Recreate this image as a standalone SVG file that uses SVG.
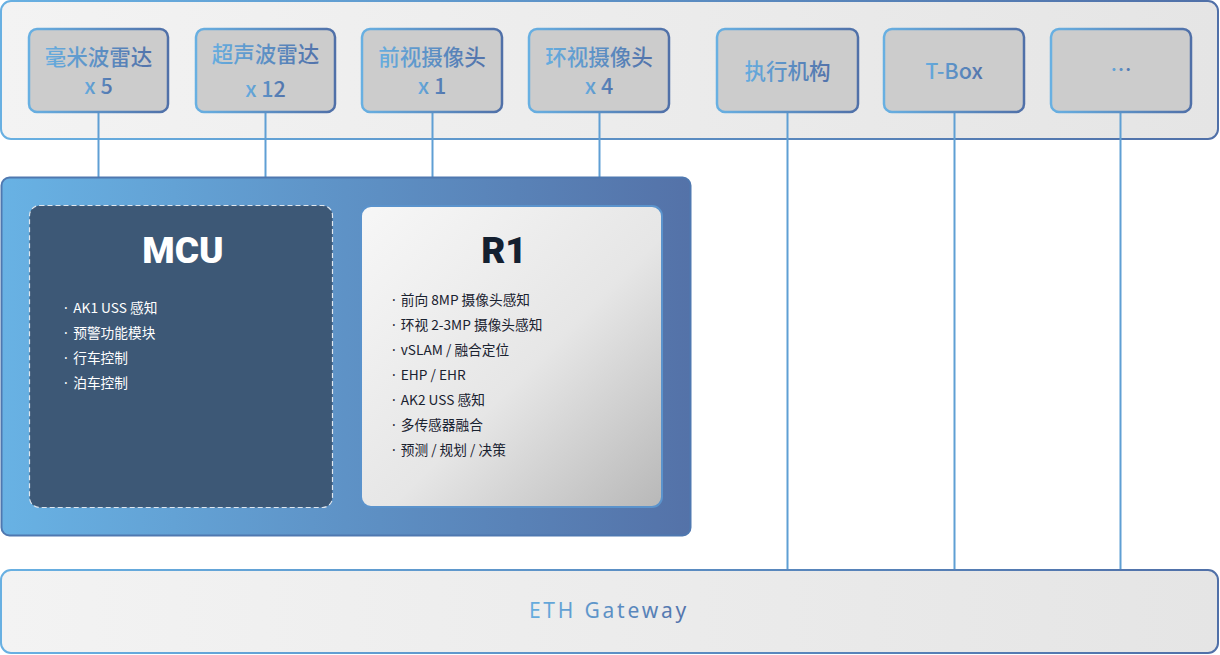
<svg xmlns="http://www.w3.org/2000/svg" width="1220" height="655" viewBox="0 0 1220 655">
<defs>
<linearGradient id="gStroke" x1="0" y1="0" x2="1" y2="0">
<stop offset="0" stop-color="#68b0e2"/><stop offset="1" stop-color="#5070a8"/>
</linearGradient>
<linearGradient id="gPanel" x1="0" y1="0" x2="1" y2="0">
<stop offset="0" stop-color="#f3f3f3"/><stop offset="1" stop-color="#e5e5e5"/>
</linearGradient>
<linearGradient id="gMain" x1="0" y1="0" x2="1" y2="0">
<stop offset="0" stop-color="#68b2e4"/><stop offset="1" stop-color="#5472a8"/>
</linearGradient>
<linearGradient id="gR1" x1="0" y1="0" x2="1" y2="1">
<stop offset="0" stop-color="#f7f7f7"/><stop offset="0.55" stop-color="#e6e6e6"/><stop offset="1" stop-color="#b8b8b8"/>
</linearGradient>
<linearGradient id="gText" x1="0" y1="0" x2="1" y2="0">
<stop offset="0" stop-color="#66addf"/><stop offset="1" stop-color="#5272aa"/>
</linearGradient>
</defs>
<style>
.panel{fill:url(#gPanel);stroke:url(#gStroke);stroke-width:2}
.node{fill:#cccccc;stroke:url(#gStroke);stroke-width:2.5}
.nt{font-family:"Noto Sans CJK SC","Noto Sans",sans-serif;font-size:21.5px;font-weight:500;fill:url(#gText);text-anchor:middle}
.conn line{stroke:#5f9fd4;stroke-width:2}
.title{font-family:"Roboto","Noto Sans",sans-serif;font-weight:900;font-size:37px;text-anchor:middle}
.item{font-family:"Noto Sans CJK SC","Noto Sans",sans-serif;font-size:13.7px}
.dot{font-family:"Noto Sans",sans-serif}
</style>

<g id="top-panel"><rect class="panel" x="1" y="1" width="1217" height="138" rx="10"/></g>

<g class="conn" id="connectors">
<line x1="98.5" y1="112" x2="98.5" y2="177"/>
<line x1="265.5" y1="112" x2="265.5" y2="177"/>
<line x1="432.5" y1="112" x2="432.5" y2="177"/>
<line x1="599.5" y1="112" x2="599.5" y2="177"/>
<line x1="787.5" y1="112" x2="787.5" y2="570"/>
<line x1="954.5" y1="112" x2="954.5" y2="570"/>
<line x1="1120.5" y1="112" x2="1120.5" y2="570"/>
</g>

<g id="n-radar"><rect class="node" x="29" y="29" width="139" height="83" rx="8"/>
<text class="nt" x="98.5" y="65">毫米波雷达</text><text class="nt" x="98.5" y="94">x 5</text></g>
<g id="n-uss"><rect class="node" x="196" y="29" width="139" height="83" rx="8"/>
<text class="nt" x="265.5" y="62">超声波雷达</text><text class="nt" x="265.5" y="97">x 12</text></g>
<g id="n-front"><rect class="node" x="362" y="29" width="140" height="83" rx="8"/>
<text class="nt" x="432" y="65">前视摄像头</text><text class="nt" x="432" y="94">x 1</text></g>
<g id="n-surround"><rect class="node" x="529" y="29" width="140" height="83" rx="8"/>
<text class="nt" x="599" y="65">环视摄像头</text><text class="nt" x="599" y="94">x 4</text></g>
<g id="n-actuator"><rect class="node" x="717" y="29" width="141" height="83" rx="8"/>
<text class="nt" x="787.5" y="79">执行机构</text></g>
<g id="n-tbox"><rect class="node" x="884" y="29" width="140" height="83" rx="8"/>
<text class="nt" x="954" y="79">T-Box</text></g>
<g id="n-more"><rect class="node" x="1051" y="29" width="140" height="83" rx="8"/>
<text class="nt" x="1121" y="77">…</text></g>

<g id="domain"><rect x="1.5" y="177.5" width="689" height="358" rx="8" fill="url(#gMain)" stroke="#4f78b0" stroke-width="2"/></g>

<g id="mcu">
<rect x="29.5" y="205.5" width="303" height="302" rx="10" fill="#3d5876" stroke="#dfe6ee" stroke-width="1.2" stroke-dasharray="5,3"/>
<text class="title" x="183" y="263" fill="#ffffff">MCU</text>
<g class="item" fill="#ffffff">
<text x="64" y="313"><tspan class="dot">·</tspan><tspan dx="2.5"> AK1 USS 感知</tspan></text>
<text x="64" y="338"><tspan class="dot">·</tspan><tspan dx="2.5"> 预警功能模块</tspan></text>
<text x="64" y="363"><tspan class="dot">·</tspan><tspan dx="2.5"> 行车控制</tspan></text>
<text x="64" y="388"><tspan class="dot">·</tspan><tspan dx="2.5"> 泊车控制</tspan></text>
</g>
</g>

<g id="r1">
<rect x="361" y="206" width="301" height="301" rx="10" fill="url(#gR1)" stroke="#5b93cc" stroke-width="2"/>
<text class="title" x="504" y="263" fill="#142030">R1</text>
<g class="item" fill="#1a2230">
<text x="392" y="305"><tspan class="dot">·</tspan><tspan dx="2"> 前向 8MP 摄像头感知</tspan></text>
<text x="392" y="330"><tspan class="dot">·</tspan><tspan dx="2"> 环视 2-3MP 摄像头感知</tspan></text>
<text x="392" y="355"><tspan class="dot">·</tspan><tspan dx="2"> vSLAM / 融合定位</tspan></text>
<text x="392" y="380"><tspan class="dot">·</tspan><tspan dx="2"> EHP / EHR</tspan></text>
<text x="392" y="405"><tspan class="dot">·</tspan><tspan dx="2"> AK2 USS 感知</tspan></text>
<text x="392" y="430"><tspan class="dot">·</tspan><tspan dx="2"> 多传感器融合</tspan></text>
<text x="392" y="455"><tspan class="dot">·</tspan><tspan dx="2"> 预测 / 规划 / 决策</tspan></text>
</g>
</g>

<g id="eth">
<rect class="panel" x="1" y="570" width="1217" height="83" rx="10"/>
<text x="609" y="618" text-anchor="middle" font-family="'Noto Sans','DejaVu Sans',sans-serif" font-size="21" letter-spacing="2.8" fill="url(#gText)">ETH Gateway</text>
</g>
</svg>
